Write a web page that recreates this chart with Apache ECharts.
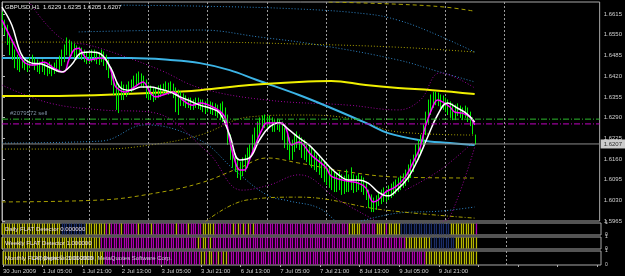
<!DOCTYPE html>
<html><head><meta charset="utf-8">
<script src="https://cdn.jsdelivr.net/npm/echarts@6/dist/echarts.min.js"></script>
<style>html,body{margin:0;padding:0;background:#000;}#c{width:625px;height:276px;}</style>
</head><body><div id="c"></div>
<script>
// ---------------- DATA ----------------
const symbolTitle = 'GBPUSD,H1';
const lastOHLC = [1.6229, 1.6235, 1.6205, 1.6207];
const priceMin = 1.5965, priceStep = 0.0065, priceMax = 1.6653;
const barCount = 241.5; // visible bar slots incl. chart shift
const timeLabels = ['30 Jun 2009','1 Jul 05:00','1 Jul 21:00','2 Jul 13:00','3 Jul 05:00','3 Jul 21:00',
  '6 Jul 13:00','7 Jul 05:00','7 Jul 21:00','8 Jul 13:00','9 Jul 05:00','9 Jul 21:00'];
const labelEvery = 16;
const dayStarts = [11,35,59,83,107,131,155,179,203];

const highs = [
1.6621,1.6596,1.6580,1.6549,1.6533,1.6502,1.6486,1.6477,1.6486,1.6477,1.6471,1.6477,1.6486,1.6477,1.6471,1.6464,
1.6471,1.6464,1.6458,1.6464,1.6455,1.6461,1.6471,1.6483,1.6502,1.6518,1.6540,1.6533,1.6527,1.6521,1.6515,1.6511,
1.6508,1.6502,1.6496,1.6496,1.6502,1.6502,1.6496,1.6493,1.6502,1.6496,1.6486,1.6471,1.6445,1.6424,1.6402,1.6392,
1.6402,1.6392,1.6392,1.6402,1.6408,1.6420,1.6427,1.6433,1.6427,1.6420,1.6408,1.6392,1.6389,1.6383,1.6383,1.6389,
1.6392,1.6395,1.6402,1.6398,1.6402,1.6395,1.6383,1.6376,1.6370,1.6364,1.6358,1.6351,1.6351,1.6345,1.6351,1.6351,
1.6345,1.6345,1.6339,1.6345,1.6339,1.6336,1.6333,1.6329,1.6333,1.6339,1.6320,1.6298,1.6235,1.6188,1.6172,1.6157,
1.6150,1.6163,1.6172,1.6194,1.6204,1.6235,1.6257,1.6276,1.6289,1.6295,1.6298,1.6292,1.6295,1.6289,1.6282,1.6285,
1.6282,1.6276,1.6257,1.6245,1.6226,1.6219,1.6235,1.6245,1.6235,1.6226,1.6219,1.6204,1.6197,1.6194,1.6182,1.6172,
1.6166,1.6157,1.6150,1.6141,1.6132,1.6125,1.6119,1.6113,1.6119,1.6110,1.6106,1.6125,1.6110,1.6132,1.6110,1.6106,
1.6113,1.6106,1.6100,1.6087,1.6062,1.6047,1.6037,1.6044,1.6056,1.6062,1.6069,1.6062,1.6075,1.6081,1.6087,1.6094,
1.6100,1.6106,1.6113,1.6125,1.6141,1.6157,1.6172,1.6204,1.6219,1.6235,1.6267,1.6307,1.6345,1.6361,1.6370,1.6370,
1.6367,1.6361,1.6358,1.6351,1.6345,1.6339,1.6333,1.6329,1.6333,1.6326,1.6320,1.6326,1.6320,1.6307,1.6289,1.6235];
const lows = [
1.6571,1.6549,1.6518,1.6486,1.6471,1.6445,1.6439,1.6433,1.6445,1.6439,1.6433,1.6445,1.6452,1.6439,1.6433,1.6427,
1.6433,1.6424,1.6420,1.6427,1.6420,1.6427,1.6433,1.6439,1.6452,1.6464,1.6486,1.6477,1.6483,1.6477,1.6471,1.6477,
1.6471,1.6464,1.6458,1.6461,1.6464,1.6467,1.6458,1.6455,1.6464,1.6452,1.6439,1.6414,1.6392,1.6361,1.6314,1.6304,
1.6345,1.6345,1.6355,1.6361,1.6370,1.6376,1.6389,1.6395,1.6389,1.6383,1.6351,1.6345,1.6345,1.6339,1.6345,1.6351,
1.6355,1.6361,1.6364,1.6361,1.6364,1.6351,1.6307,1.6298,1.6326,1.6326,1.6320,1.6320,1.6314,1.6314,1.6320,1.6317,
1.6314,1.6307,1.6301,1.6307,1.6301,1.6298,1.6295,1.6289,1.6282,1.6276,1.6263,1.6204,1.6157,1.6132,1.6119,1.6100,
1.6094,1.6106,1.6119,1.6132,1.6157,1.6172,1.6188,1.6204,1.6235,1.6251,1.6257,1.6251,1.6257,1.6245,1.6245,1.6251,
1.6245,1.6219,1.6194,1.6188,1.6157,1.6157,1.6182,1.6194,1.6188,1.6163,1.6157,1.6150,1.6141,1.6132,1.6125,1.6119,
1.6110,1.6100,1.6087,1.6078,1.6069,1.6062,1.6056,1.6056,1.6062,1.6047,1.6050,1.6056,1.6056,1.6062,1.6053,1.6056,
1.6062,1.6056,1.6047,1.6031,1.6006,1.5993,1.5993,1.6000,1.6012,1.6018,1.6025,1.6025,1.6031,1.6037,1.6044,1.6050,
1.6056,1.6062,1.6069,1.6075,1.6087,1.6100,1.6119,1.6141,1.6157,1.6172,1.6194,1.6235,1.6267,1.6298,1.6320,1.6329,
1.6326,1.6320,1.6314,1.6307,1.6298,1.6289,1.6282,1.6282,1.6295,1.6289,1.6282,1.6289,1.6276,1.6263,1.6238,1.6205];

// moving averages (bar index, price)
const whiteIdx = [0,4,8,12,16,20,24,28,32,36,40,44,48,52,56,60,64,68,72,76,80,84,88,92,96,100,104,108,112,116,120,124,128,132,136,140,144,148,152,156,160,164,168,172,176,180,184,188,191];
const whiteVal = [1.6637,1.6580,1.6486,1.6461,1.6458,1.6445,1.6433,1.6455,1.6493,1.6496,1.6489,1.6445,1.6383,1.6376,1.6386,1.6386,1.6379,1.6370,1.6355,1.6342,1.6329,1.6320,1.6304,1.6235,1.6157,1.6163,1.6219,1.6260,1.6273,1.6251,1.6226,1.6204,1.6172,1.6138,1.6110,1.6094,1.6094,1.6084,1.6056,1.6044,1.6066,1.6100,1.6157,1.6229,1.6298,1.6336,1.6320,1.6301,1.6276];
const magIdx = [0,5,9,13,17,21,25,27,29,31,33,35,40,42,44,45,46,50,53,57,60,62,65,69,73,77,80,86,90,92,94,96,98,100,102,105,107,113,115,117,120,125,131,133,139,144,147,150,152,155,159,163,166,169,171,174,176,178,181,183,186,189,191];
const magVal = [1.6596,1.6518,1.6464,1.6455,1.6464,1.6445,1.6433,1.6471,1.6502,1.6508,1.6486,1.6471,1.6477,1.6471,1.6439,1.6408,1.6386,1.6370,1.6383,1.6402,1.6367,1.6355,1.6361,1.6370,1.6345,1.6329,1.6336,1.6320,1.6292,1.6219,1.6157,1.6125,1.6125,1.6157,1.6197,1.6251,1.6273,1.6273,1.6251,1.6204,1.6213,1.6172,1.6132,1.6106,1.6091,1.6084,1.6069,1.6025,1.6031,1.6056,1.6072,1.6103,1.6147,1.6197,1.6260,1.6323,1.6345,1.6339,1.6323,1.6307,1.6304,1.6292,1.6267];
const yellowMaIdx = [0,19,40,60,80,100,120,133,147,160,174,191];
const yellowMaVal = [1.6358,1.6358,1.6361,1.6367,1.6376,1.6392,1.6402,1.6405,1.6392,1.6383,1.6376,1.6364];
const blueMaIdx = [0,23,52,68,80,92,103,120,133,147,156,169,181,191];
const blueMaVal = [1.6477,1.6477,1.6477,1.6471,1.6461,1.6439,1.6408,1.6361,1.6320,1.6273,1.6241,1.6219,1.6210,1.6204];

// envelope / band lines
const bandBlueTopIdx = [48,80,120,148,160,173,191];
const bandBlueTopVal = [1.6643,1.6640,1.6631,1.6615,1.6596,1.6559,1.6496];
const bandBlue2Idx = [31,80,104,128,160,177,191];
const bandBlue2Val = [1.6559,1.6565,1.6543,1.6518,1.6471,1.6433,1.6402];
const bandYellowTopIdx = [132,160,179,191];
const bandYellowTopVal = [1.6653,1.6646,1.6637,1.6624];
const bandYellow2Idx = [0,80,120,160,191];
const bandYellow2Val = [1.6527,1.6527,1.6521,1.6511,1.6496];
const bandBlueMidIdx = [0,40,58,80,94,107,116,128,135];
const bandBlueMidVal = [1.6210,1.6216,1.6267,1.6219,1.6125,1.6047,1.6028,1.6006,1.5962];
const bandBlueLowIdx = [144,160,177,191];
const bandBlueLowVal = [1.5962,1.5990,1.5996,1.6009];
const bandYellowLowIdx = [0,40,60,80,96,107,120,140,160,191];
const bandYellowLowVal = [1.6025,1.6031,1.6050,1.6084,1.6132,1.6163,1.6147,1.6119,1.6103,1.6100];
const bandYellowMidIdx = [0,40,60,80,100,120,140,160,191];
const bandYellowMidVal = [1.6191,1.6191,1.6204,1.6235,1.6292,1.6298,1.6288,1.6245,1.6235];
const bandYellowBotIdx = [82,99,120,154,191];
const bandYellowBotVal = [1.5962,1.6031,1.6040,1.6000,1.5974];
const bandMagUpIdx = [11,25,35,48,64,80,107,140,160,169,177,191];
const bandMagUpVal = [1.6653,1.6533,1.6518,1.6486,1.6439,1.6383,1.6345,1.6329,1.6314,1.6345,1.6430,1.6383];
const bandMagLowIdx = [0,19,40,60,83,97,108,120,136,152];
const bandMagLowVal = [1.6392,1.6336,1.6314,1.6307,1.6182,1.6062,1.6078,1.6110,1.6031,1.5962];
const bandMagLow2Idx = [163,177,190];
const bandMagLow2Val = [1.6062,1.6125,1.6210];
const bandMagLow3Idx = [177,181,191];
const bandMagLow3Val = [1.5962,1.5978,1.6197];

const orderLevels = [1.6285, 1.6270];
const orderLabel = '#2079572 sell';

// FLAT detector states, run-length: y=yellow, m=magenta, b=blue
const dailyRuns = [['y',24],['b',10],['y',8],['m',1],['y',1],['m',4],['y',1],['m',6],['y',1],['m',4],['y',1],['m',9],['y',1],['m',4],['y',1],['m',5],['y',5],['m',7],['y',1],['m',1],['y',1],['m',1],['y',1],['m',1],['y',1],['m',1],['y',1],['m',38],['y',5],['m',6],['y',4],['m',1],['y',5],['b',20],['y',10],['m',1]];
const weeklyRuns = [['y',40],['m',39],['y',1],['m',1],['y',2],['m',1],['y',1],['m',78],['y',10],['b',10],['y',9]];
const monthlyRuns = [['y',41],['m',39],['y',2],['m',1],['y',2],['m',2],['y',1],['m',1],['y',2],['m',80],['y',21]];
const panelTexts = ['Daily FLAT Detector 0.000000','Weekly FLAT Detector 1.000000','Monthly FLAT Detector 1.000000'];
const copyrightText = 'Copyright \u00A9 2001-2009, MetaQuotes Software Corp.';

// ---------------- CHART ----------------
const FF = '"Liberation Sans", Arial, sans-serif';
const stateColor = {y:'#b8b800', m:'#b000b0', b:'#1c2e6a'};
const pairs = (idx, val) => idx.map((x, k) => [x, val[k]]);
const expand = runs => { const out = []; runs.forEach(([s, n]) => { for (let k = 0; k < n; k++) out.push([out.length, s]); }); return out; };

const chart = echarts.init(document.getElementById('c'));

const grids = [
  {left:2, top:2, width:599, height:219},
  {left:2, top:223, width:599, height:12},
  {left:2, top:237, width:599, height:12},
  {left:2, top:251, width:599, height:14}
].map(g => Object.assign(g, {show:true, borderColor:'#a8a8a8', borderWidth:1, backgroundColor:'transparent'}));

const xAxes = [0,1,2,3].map(g => ({
  gridIndex:g, type:'value', min:0, max:barCount, interval:labelEvery,
  axisLine:{show:false}, splitLine:{show:false},
  axisTick:{show:g===3, length:2, lineStyle:{color:'#b0b0b0'}},
  axisLabel:{show:g===3, color:'#d0d0d0', fontSize:6, fontFamily:FF, margin:3, align:'left',
    showMaxLabel:false,
    formatter: v => { const k = Math.round(v / labelEvery); return (Math.abs(v - k*labelEvery) < 1e-6 && k < timeLabels.length) ? timeLabels[k] : ''; }}
}));

const yAxes = [{
  gridIndex:0, type:'value', position:'right', min:priceMin, max:priceMax, interval:priceStep,
  splitLine:{show:false},
  axisLine:{show:true, lineStyle:{color:'#b0b0b0'}},
  axisTick:{show:true, length:3, lineStyle:{color:'#b0b0b0'}},
  axisLabel:{color:'#d0d0d0', fontSize:6, fontFamily:FF, margin:4, showMaxLabel:false, formatter: v => v.toFixed(4)}
}].concat([1,2,3].map(g => ({
  gridIndex:g, type:'value', position:'right', min:0, max:1, interval:1,
  splitLine:{show:false}, axisTick:{show:false},
  axisLine:{show:true, lineStyle:{color:'#a8a8a8'}},
  axisLabel:{color:'#d0d0d0', fontSize:5, fontFamily:FF, margin:4}
})));

const series = [];

// day separators
[0,1,2,3].forEach(g => {
  series.push({
    type:'custom', xAxisIndex:g, yAxisIndex:g, z:1, silent:true,
    data: dayStarts.map(d => [d]),
    renderItem: (params, api) => {
      const x = Math.round(api.coord([api.value(0), g === 0 ? priceMin : 0])[0]) + 0.5;
      const cs = params.coordSys;
      return {type:'line', shape:{x1:x, y1:cs.y, x2:x, y2:cs.y + cs.height},
        style:{stroke:'#9a9a9a', lineWidth:1, lineDash:[2,2]}};
    }
  });
});

// bands
const bands = [
  [bandBlueTopIdx, bandBlueTopVal, '#2f86c8', [1,2]],
  [bandBlue2Idx, bandBlue2Val, '#2f86c8', [1,2]],
  [bandYellowTopIdx, bandYellowTopVal, '#a8a000', [4,3]],
  [bandYellow2Idx, bandYellow2Val, '#a8a000', [1,2]],
  [bandBlueMidIdx, bandBlueMidVal, '#2f86c8', [1,2]],
  [bandBlueLowIdx, bandBlueLowVal, '#2f86c8', [1,2]],
  [bandYellowLowIdx, bandYellowLowVal, '#a8a000', [4,3]],
  [bandYellowMidIdx, bandYellowMidVal, '#a8a000', [1,2]],
  [bandYellowBotIdx, bandYellowBotVal, '#a8a000', [4,2,1,2]],
  [bandMagUpIdx, bandMagUpVal, '#9a009a', [1,2]],
  [bandMagLowIdx, bandMagLowVal, '#9a009a', [1,2]],
  [bandMagLow2Idx, bandMagLow2Val, '#9a009a', [1,2]],
  [bandMagLow3Idx, bandMagLow3Val, '#9a009a', [1,2]]
];
bands.forEach(([idx, val, col, dash]) => {
  series.push({type:'line', xAxisIndex:0, yAxisIndex:0, z:2, silent:true, smooth:0.4, showSymbol:false, symbol:'none',
    data:pairs(idx, val), lineStyle:{color:col, width:1, type:dash}});
});

// horizontal level lines through the library's axis (one series per level)
const hLine = (level, color, dash, z) => ({
  type:'line', xAxisIndex:0, yAxisIndex:0, z:z, silent:true, symbol:'none', showSymbol:false,
  data:[[0, level], [barCount, level]], lineStyle:{color:color, width:1, type:dash}
});
series.push(hLine(orderLevels[0], '#2db82d', [6,2,1,2], 7));
series.push(hLine(orderLevels[1], '#c000c0', [6,2,1,2], 7));
series.push(hLine(lastOHLC[3], '#8c8c8c', 'solid', 7));
// labels for order and last price
series.push({type:'scatter', xAxisIndex:0, yAxisIndex:0, z:8, silent:true, symbolSize:0,
  data:[{value:[0, orderLevels[0]], label:{show:true, position:'insideLeft', offset:[3,-6], formatter:orderLabel,
          color:'#9ab0c8', fontSize:6, fontFamily:FF}},
        {value:[barCount, lastOHLC[3]], label:{show:true, position:'right', distance:1, formatter:lastOHLC[3].toFixed(4),
          color:'#000', backgroundColor:'#fff', fontSize:6, fontFamily:FF, padding:[2,3,1,3]}}],
  clip:false});

// slow MAs
series.push({type:'line', xAxisIndex:0, yAxisIndex:0, z:3, smooth:0.4, symbol:'none', showSymbol:false,
  data:pairs(blueMaIdx, blueMaVal), lineStyle:{color:'#3cb4e6', width:2}});
series.push({type:'line', xAxisIndex:0, yAxisIndex:0, z:3, smooth:0.4, symbol:'none', showSymbol:false,
  data:pairs(yellowMaIdx, yellowMaVal), lineStyle:{color:'#f0f000', width:2}});

// price bars
series.push({
  type:'custom', xAxisIndex:0, yAxisIndex:0, z:4, silent:true,
  data: highs.map((h, i) => [i, lows[i], h]),
  renderItem: (params, api) => {
    const p1 = api.coord([api.value(0), api.value(1)]);
    const p2 = api.coord([api.value(0), api.value(2)]);
    const x = Math.round(p1[0]) + 0.5;
    return {type:'line', shape:{x1:x, y1:p1[1], x2:x, y2:p2[1] - 0.5}, style:{stroke:'#00f000', lineWidth:1}};
  }
});

// fast MAs
series.push({type:'line', xAxisIndex:0, yAxisIndex:0, z:5, smooth:0.35, symbol:'none', showSymbol:false,
  data:pairs(magIdx, magVal), lineStyle:{color:'#ff00ff', width:1.5}});
series.push({type:'line', xAxisIndex:0, yAxisIndex:0, z:6, smooth:0.4, symbol:'none', showSymbol:false,
  data:pairs(whiteIdx, whiteVal), lineStyle:{color:'#ffffff', width:1.5}});

// FLAT detector panels
[dailyRuns, weeklyRuns, monthlyRuns].forEach((runs, k) => {
  const g = k + 1;
  const states = expand(runs);
  series.push({
    type:'custom', xAxisIndex:g, yAxisIndex:g, z:2, silent:true,
    data: states.map(([i]) => [i]),
    renderItem: (params, api) => {
      const i = api.value(0);
      const st = states[i][1];
      const top = api.coord([i, 1]);
      const bot = api.coord([i, 0]);
      return {type:'rect', shape:{x:Math.round(top[0]) - 0.2, y:top[1] + 0.5, width:1.3, height:bot[1] - top[1] - 1},
        style:{fill:stateColor[st]}};
    }
  });
});

const header = symbolTitle + '  ' + lastOHLC.map(v => v.toFixed(4)).join(' ');
const graphic = [
  {type:'text', left:5, top:4, z:20, style:{text:header, fill:'#e8e8e8', fontSize:6, fontFamily:FF}},
  {type:'text', left:5, top:226, z:20, style:{text:panelTexts[0], fill:'#eadde4', fontSize:6, fontFamily:FF}},
  {type:'text', left:5, top:240, z:20, style:{text:panelTexts[1], fill:'#eadde4', fontSize:6, fontFamily:FF}},
  {type:'text', left:5, top:255, z:20, style:{text:panelTexts[2], fill:'#eadde4', fontSize:6, fontFamily:FF}},
  {type:'text', left:32, top:255, z:21, style:{text:copyrightText, fill:'#d8e0f0', fontSize:6, fontFamily:FF, opacity:0.85}}
];

chart.setOption({backgroundColor:'#000', animation:false, grid:grids, xAxis:xAxes, yAxis:yAxes, series:series, graphic:graphic});
</script>
</body></html>
